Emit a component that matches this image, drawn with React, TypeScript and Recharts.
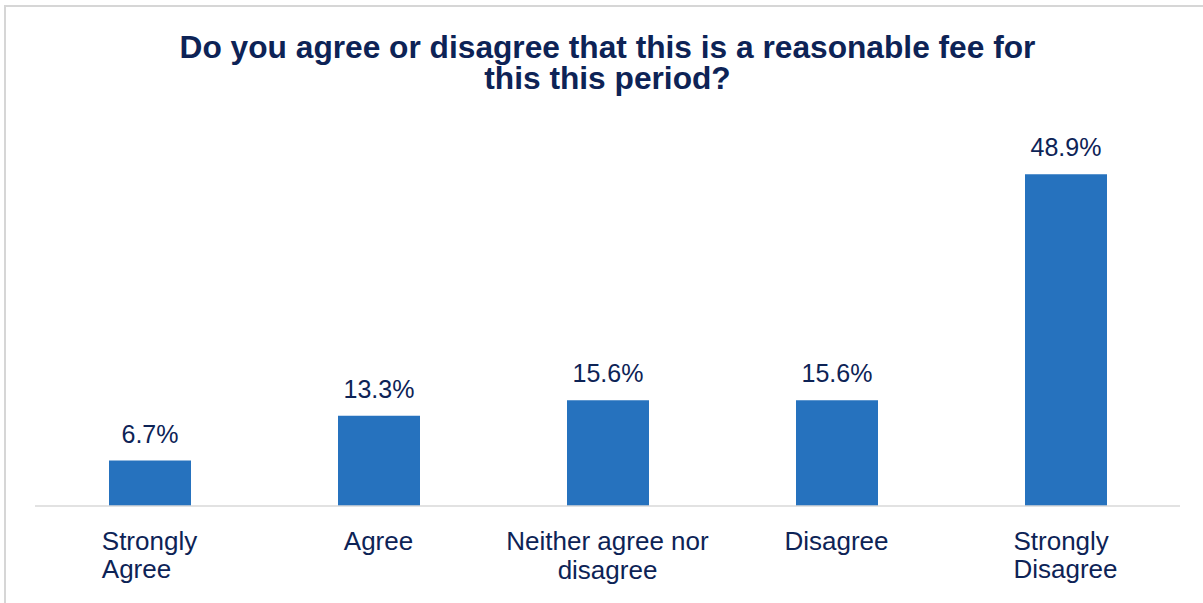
import React from "react";
import { BarChart, Bar, XAxis, YAxis, LabelList } from "recharts";

const categories = ["Strongly Agree", "Agree", "Neither agree nor disagree", "Disagree", "Strongly Disagree"];
const tickLines = [["Strongly", "Agree"], ["Agree"], ["Neither agree nor", "disagree"], ["Disagree"], ["Strongly", "Disagree"]];
const values = [6.7, 13.3, 15.6, 15.6, 48.9];
const titleLines = ["Do you agree or disagree that this is a reasonable fee for", "this this period?"];

const data = categories.map((c, i) => ({ name: c, value: values[i], idx: i }));

const FONT = "'Liberation Sans', Arial, sans-serif";
const NAVY = "#0d2356";
const BLUE = "#2672be";

let ctx: CanvasRenderingContext2D | null = null;
function measure(text: string, size: number): number {
  if (!ctx) ctx = document.createElement("canvas").getContext("2d");
  if (!ctx) return text.length * size * 0.5;
  ctx.font = `${size}px 'Liberation Sans'`;
  return ctx.measureText(text).width;
}

const Tick = (props: any) => {
  const { x, y, payload } = props;
  const idx = categories.indexOf(payload.value);
  const lines = tickLines[idx] || [payload.value];
  const singleWords = lines.length > 1 && lines.every((l) => !l.includes(" "));
  const size = 26;
  if (singleWords) {
    const w = Math.max(...lines.map((l) => measure(l, size)));
    const sx = x - w / 2;
    return (
      <text x={sx} y={y + 44} textAnchor="start" fontSize={size} fontFamily={FONT} fill={NAVY}>
        {lines.map((l, i) => (
          <tspan key={i} x={sx} dy={i === 0 ? 0 : 27.5}>
            {l}
          </tspan>
        ))}
      </text>
    );
  }
  return (
    <text x={x} y={y + 44} textAnchor="middle" fontSize={size} fontFamily={FONT} fill={NAVY}>
      {lines.map((l, i) => (
        <tspan key={i} x={x} dy={i === 0 ? 0 : 28.5}>
          {l}
        </tspan>
      ))}
    </text>
  );
};

const ValueLabel = (props: any) => {
  const { x, y, width, value } = props;
  return (
    <text x={x + width / 2} y={y - 18} textAnchor="middle" fontSize={25} fontFamily={FONT} fill={NAVY}>
      {`${Number(value).toFixed(1)}%`}
    </text>
  );
};

export default function App() {
  return (
    <div style={{ position: "absolute", left: 0, top: 0, width: 1203, height: 603, overflow: "hidden", background: "#fff" }}>
      <div
        style={{
          position: "absolute",
          left: 4,
          top: 5,
          width: 1220,
          height: 620,
          border: "2px solid #d6d6d6",
          boxSizing: "border-box",
        }}
      />
      <svg style={{ position: "absolute", left: 0, top: 0 }} width={1203} height={110}>
        <text
          x={607.5}
          y={57.5}
          textAnchor="middle"
          fontSize={31.7}
          fontWeight="bold"
          fontFamily={FONT}
          fill={NAVY}
        >
          {titleLines.map((t, i) => (
            <tspan key={i} x={607.5} dy={i === 0 ? 0 : 31}>
              {t}
            </tspan>
          ))}
        </text>
      </svg>
      <div style={{ position: "absolute", left: 0, top: 0 }}>
        <BarChart width={1203} height={603} data={data} margin={{ top: 99, right: 23, bottom: 37, left: 35 }}>
          <XAxis
            dataKey="name"
            height={60}
            axisLine={{ stroke: "#d9d9d9", strokeWidth: 1.5 }}
            tickLine={false}
            tickSize={0}
            tickMargin={0}
            interval={0}
            tick={<Tick />}
          />
          <YAxis hide domain={[0, 60]} />
          <Bar dataKey="value" fill={BLUE} barSize={82} isAnimationActive={false}>
            <LabelList dataKey="value" content={<ValueLabel />} />
          </Bar>
        </BarChart>
      </div>
    </div>
  );
}
